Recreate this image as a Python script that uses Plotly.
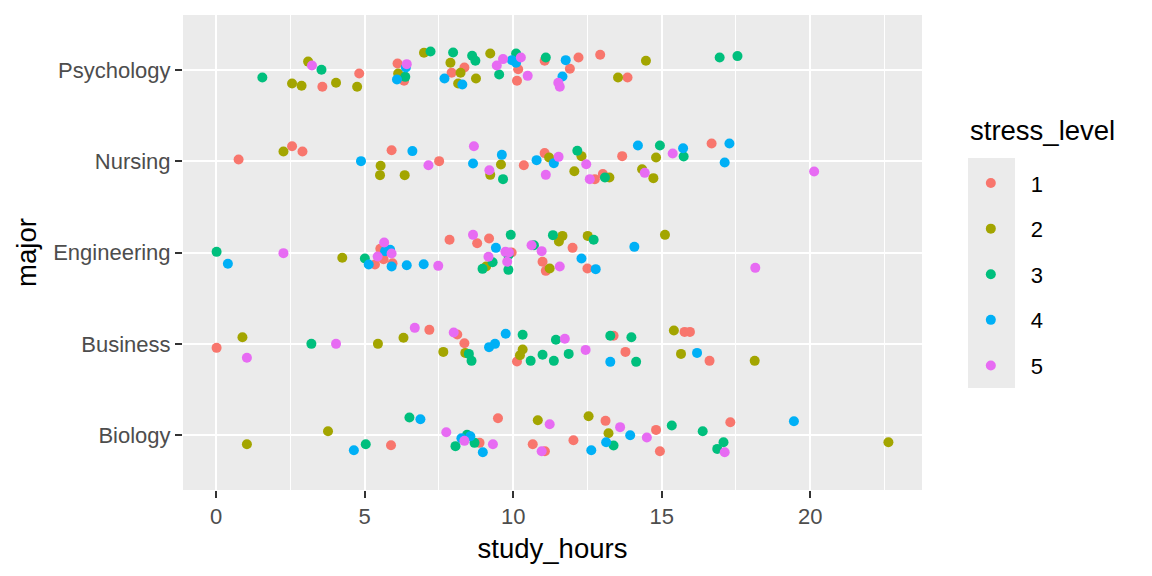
import pandas as pd
import plotly.graph_objects as go

majors = ["Biology", "Business", "Engineering", "Nursing", "Psychology"]
stress_levels = [1, 2, 3, 4, 5]

# study hours, stress level and vertical jitter (in category units) per major
psych_hours = [1.56, 3.10, 3.23, 3.55, 2.56, 2.88, 3.58, 4.04, 4.75, 4.82, 7.00, 7.22, 6.11, 6.42,
               6.39, 6.13, 6.37, 6.09, 6.33, 7.98, 7.89, 8.36, 7.93, 8.23, 7.69, 8.15, 8.29, 8.75,
               8.62, 8.73, 9.23, 9.66, 9.45, 9.53, 10.10, 9.96, 10.26, 10.10, 10.17, 10.13, 10.49,
               11.10, 11.06, 11.77, 12.20, 11.91, 11.66, 11.52, 11.57, 12.93, 14.47, 13.53, 13.85,
               16.95, 17.55]
psych_stress = [3, 2, 5, 3, 2, 2, 1, 2, 2, 1, 2, 3, 1, 5,
                4, 2, 3, 4, 1, 3, 2, 1, 1, 2, 4, 2, 4, 2,
                3, 3, 2, 5, 5, 3, 3, 4, 5, 4, 1, 1, 5,
                3, 1, 4, 1, 1, 4, 5, 5, 1, 2, 2, 1,
                3, 3]
psych_jitter = [-0.084, 0.09, 0.047, 0.0, -0.15, -0.175, -0.186, -0.142, -0.186, -0.04, 0.186, 0.2,
                0.069, 0.062, 0.026, -0.04, -0.077, -0.106, -0.12, 0.19, 0.077, 0.026, -0.033,
                -0.033, -0.095, -0.15, -0.16, -0.095, 0.153, 0.099, 0.179, 0.117, 0.047, -0.051,
                0.179, 0.106, 0.135, 0.077, 0.007, -0.12, -0.066, 0.135, 0.099, 0.106, 0.135,
                0.011, -0.073, -0.142, -0.186, 0.164, 0.099, -0.084, -0.084, 0.135, 0.15]

nursing_hours = [0.76, 2.27, 2.56, 2.91, 4.88, 5.54, 5.52, 5.91, 6.35, 6.61, 7.15, 7.51, 8.68, 8.65,
                 9.62, 9.59, 9.20, 9.23, 9.66, 10.36, 10.79, 11.06, 11.21, 11.10, 11.37, 11.53,
                 12.16, 12.30, 12.46, 12.06, 12.58, 12.75, 13.02, 13.24, 13.09, 13.67, 14.20,
                 14.94, 14.81, 14.34, 14.43, 14.72, 15.37, 15.72, 15.74, 16.68, 17.28, 17.12, 20.13]
nursing_stress = [1, 2, 1, 1, 4, 2, 2, 1, 2, 4, 5, 1, 5, 4,
                  4, 2, 5, 2, 3, 1, 4, 1, 2, 5, 4, 5,
                  3, 2, 5, 2, 5, 1, 1, 2, 3, 1, 4,
                  3, 2, 2, 5, 2, 5, 4, 3, 1, 4, 4, 5]
nursing_jitter = [0.018, 0.106, 0.164, 0.106, 0.0, -0.051, -0.153, 0.12, -0.153, 0.11, -0.044, 0.0,
                  0.164, -0.026, 0.069, -0.036, -0.099, -0.15, -0.197, -0.044, 0.011, 0.088, 0.04,
                  -0.15, -0.022, 0.047, 0.113, 0.055, -0.033, -0.11, -0.197, -0.197, -0.142,
                  -0.179, -0.179, 0.055, 0.172, 0.172, 0.04, -0.088, -0.128, -0.186, 0.084, 0.142,
                  0.051, 0.193, 0.193, -0.015, -0.113]

eng_hours = [0.02, 0.40, 2.27, 4.25, 5.01, 5.14, 5.35, 5.66, 5.53, 5.86, 5.69, 5.44, 5.91, 5.64,
             5.94, 5.91, 6.42, 6.99, 7.48, 7.86, 8.65, 8.79, 9.19, 9.42, 9.17, 9.31, 8.97, 9.09,
             9.92, 9.74, 9.84, 9.95, 9.86, 9.80, 9.84, 10.62, 10.70, 10.96, 11.34, 11.66, 11.54,
             10.99, 11.23, 11.10, 11.57, 12.51, 12.71, 12.00, 12.30, 12.50, 12.78, 14.08, 15.11,
             18.15]
eng_stress = [3, 4, 5, 2, 3, 4, 1, 5, 1, 4, 4, 5, 5, 1,
              1, 4, 4, 4, 5, 1, 5, 1, 1, 4, 5, 3, 3, 2,
              3, 5, 3, 1, 5, 5, 3, 5, 3, 5, 3, 2, 2,
              1, 2, 1, 5, 2, 3, 1, 4, 1, 4, 4, 2,
              5]
eng_jitter = [0.007, -0.124, -0.007, -0.058, -0.066, -0.131, -0.131, 0.11, 0.04, 0.029, 0.015,
              -0.044, -0.011, -0.073, -0.117, -0.153, -0.139, -0.128, -0.146, 0.139, 0.193, 0.102,
              0.153, 0.051, -0.047, -0.106, -0.179, -0.153, 0.193, 0.007, -0.029, 0.0, 0.0, -0.102,
              -0.19, 0.08, 0.08, 0.015, 0.19, 0.182, 0.12, -0.102, -0.175, -0.201, -0.153, 0.182,
              0.139, 0.051, -0.066, -0.175, -0.182, 0.062, 0.193, -0.168]

bus_hours = [0.02, 0.89, 1.04, 3.21, 4.04, 5.45, 6.31, 6.69, 7.18, 7.65, 8.00, 8.12, 8.36, 8.51,
             8.39, 8.60, 9.19, 9.39, 9.75, 10.32, 10.32, 10.23, 10.13, 10.59, 10.99, 11.37, 11.44,
             11.74, 11.87, 12.44, 13.27, 13.38, 13.98, 13.78, 13.27, 14.14, 15.41, 15.77, 15.95,
             15.65, 16.19, 16.61, 18.13]
bus_stress = [1, 2, 5, 3, 5, 2, 2, 5, 1, 2, 5, 1, 1, 3,
              2, 3, 4, 4, 4, 3, 2, 2, 1, 3, 3, 3, 3,
              5, 3, 5, 3, 1, 3, 1, 4, 3, 2, 1, 1,
              2, 4, 1, 2]
bus_jitter = [-0.044, 0.073, -0.153, 0.0, 0.0, 0.0, 0.066, 0.175, 0.153, -0.088, 0.124, 0.102,
              0.007, -0.11, -0.099, -0.186, -0.036, 0.0, 0.11, 0.099, -0.062, -0.124, -0.193,
              -0.186, -0.12, -0.186, 0.044, 0.055, -0.11, -0.066, 0.088, 0.088, 0.073, -0.088,
              -0.197, -0.197, 0.146, 0.131, 0.131, -0.11, -0.099, -0.186, -0.186]

bio_hours = [1.04, 3.77, 4.64, 5.04, 5.89, 6.51, 6.88, 7.75, 8.26, 8.45, 8.56, 8.36, 8.87, 8.70,
             8.06, 8.98, 9.32, 9.49, 10.83, 11.23, 10.66, 10.96, 11.07, 12.03, 12.54, 13.11, 13.21,
             13.60, 13.94, 13.13, 13.38, 12.63, 14.50, 14.81, 14.94, 15.34, 16.38, 17.31, 17.08,
             16.87, 17.12, 19.45, 22.63]
bio_stress = [2, 2, 4, 3, 1, 3, 4, 5, 4, 3, 4, 5, 1, 3,
              3, 4, 5, 1, 2, 5, 1, 5, 1, 1, 2, 1, 2,
              5, 4, 4, 3, 4, 5, 1, 1, 3, 3, 1, 3,
              3, 5, 4, 2]
bio_jitter = [-0.099, 0.044, -0.164, -0.099, -0.11, 0.193, 0.175, 0.033, -0.033, 0.004, -0.011,
              -0.062, -0.084, -0.084, -0.12, -0.186, -0.099, 0.186, 0.164, 0.12, -0.099, -0.175,
              -0.175, -0.055, 0.208, 0.157, 0.022, 0.088, 0.0, -0.077, -0.113, -0.164, -0.026,
              0.058, -0.175, 0.106, 0.044, 0.142, -0.077, -0.15, -0.186, 0.153, -0.077]

# ggplot2 default hue palette for 5 levels
colors = ["#F8766D", "#A3A500", "#00BF7D", "#00B0F6", "#E76BF3"]

frames = []
for major, hours, stress, jit in [
    ("Psychology", psych_hours, psych_stress, psych_jitter),
    ("Nursing", nursing_hours, nursing_stress, nursing_jitter),
    ("Engineering", eng_hours, eng_stress, eng_jitter),
    ("Business", bus_hours, bus_stress, bus_jitter),
    ("Biology", bio_hours, bio_stress, bio_jitter),
]:
    frames.append(pd.DataFrame({"major": major, "study_hours": hours,
                                "stress_level": stress, "jitter": jit}))
df = pd.concat(frames, ignore_index=True)
df["y"] = df["major"].map({m: i + 1 for i, m in enumerate(majors)}) + df["jitter"]

fig = go.Figure()
for level, color in zip(stress_levels, colors):
    sub = df[df["stress_level"] == level]
    fig.add_trace(go.Scatter(
        x=sub["study_hours"], y=sub["y"], mode="markers", name=str(level),
        legendgroup=str(level),
        marker=dict(color=color, size=10, line=dict(width=0)),
    ))

# ggplot-style 5% expansion of the x range
xmin, xmax = df["study_hours"].min(), df["study_hours"].max()
pad = (xmax - xmin) * 0.05

font = "Liberation Sans, Arial, sans-serif"
fig.update_layout(
    # the page body adds an 8px offset, so the figure is 8px smaller
    width=1144, height=568,
    margin=dict(l=175, r=230, t=7, b=86),
    paper_bgcolor="white", plot_bgcolor="#EBEBEB",
    font=dict(family=font, size=22, color="#4D4D4D"),
    legend=dict(
        x=1.039, y=0.690, xanchor="left", yanchor="top",
        font=dict(size=22, color="black"),
        itemwidth=70, tracegroupgap=14, bgcolor="rgba(0,0,0,0)",
    ),
    shapes=[dict(type="rect", xref="paper", yref="paper", x0=1.0623, x1=1.1259,
                 y0=0.215, y1=0.699, fillcolor="#EBEBEB", line=dict(width=0), layer="below")],
    annotations=[dict(text="stress_level", xref="paper", yref="paper", x=1.0623, y=0.756,
                      xanchor="left", yanchor="middle", showarrow=False,
                      font=dict(size=27.5, color="black"))],
)
fig.update_xaxes(
    range=[xmin - pad, xmax + pad], tickvals=[0, 5, 10, 15, 20],
    showgrid=True, gridcolor="white", gridwidth=2, zeroline=False,
    minor=dict(tick0=2.5, dtick=5, showgrid=True, gridcolor="white", gridwidth=1),
    ticks="outside", ticklen=7, tickcolor="#333333", tickwidth=1.6,
    tickfont=dict(size=22, color="#4D4D4D"),
    title=dict(text="study_hours", font=dict(size=27.5, color="black"), standoff=10),
)
fig.update_yaxes(
    range=[0.4, 5.6], tickvals=[1, 2, 3, 4, 5], ticktext=majors,
    showgrid=True, gridcolor="white", gridwidth=2, zeroline=False,
    ticks="outside", ticklen=7, tickcolor="#333333", tickwidth=1.6,
    tickfont=dict(size=22, color="#4D4D4D"),
    title=dict(text="major", font=dict(size=27.5, color="black"), standoff=8),
)

fig.write_html("out.html")
